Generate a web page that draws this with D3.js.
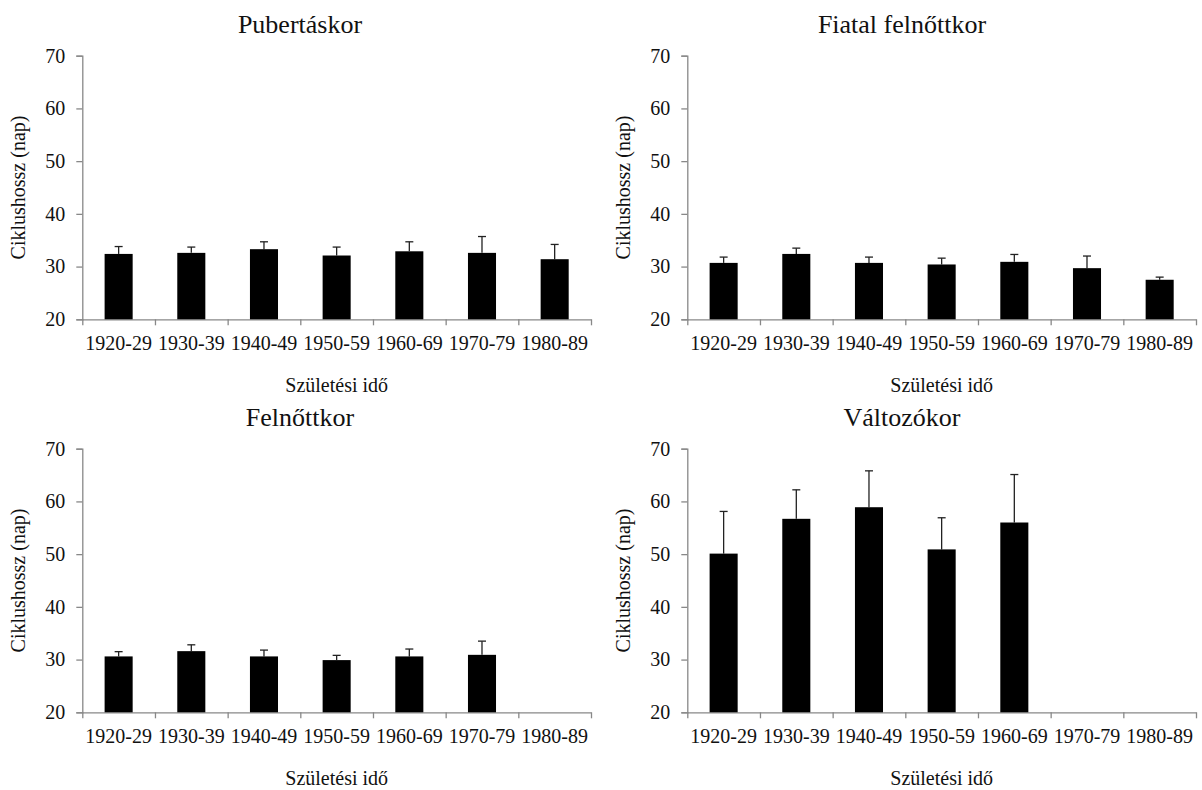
<!DOCTYPE html>
<html>
<head>
<meta charset="utf-8">
<script src="https://cdnjs.cloudflare.com/ajax/libs/d3/7.8.5/d3.min.js"></script>
<style>
  body { margin: 0; background: #fff; }
</style>
</head>
<body>
<svg id="chart" width="1202" height="790"></svg>
<script>
// categories (születési idő)
const decades = ["1920-29", "1930-39", "1940-49", "1950-59", "1960-69", "1970-79", "1980-89"];
const yTicks = [20, 30, 40, 50, 60, 70];

// panel titles
const titles = ["Pubertáskor", "Fiatal felnőttkor", "Felnőttkor", "Változókor"];

// mean cycle length per decade (null = no data)
const pubertasMean = [32.4, 32.6, 33.3, 32.1, 32.9, 32.6, 31.4];
const fiatalMean = [30.7, 32.4, 30.7, 30.4, 30.9, 29.7, 27.5];
const felnottMean = [30.6, 31.6, 30.6, 29.9, 30.6, 30.9, null];
const valtozoMean = [50.1, 56.7, 58.9, 50.9, 56.0, null, null];

// upper error bar length
const pubertasErr = [1.4, 1.1, 1.4, 1.6, 1.8, 3.1, 2.8];
const fiatalErr = [1.1, 1.1, 1.1, 1.2, 1.4, 2.3, 0.5];
const felnottErr = [0.9, 1.2, 1.2, 0.9, 1.4, 2.6, null];
const valtozoErr = [8.0, 5.5, 6.9, 6.0, 9.1, null, null];

const means = [pubertasMean, fiatalMean, felnottMean, valtozoMean];
const errs = [pubertasErr, fiatalErr, felnottErr, valtozoErr];

const svg = d3.select("#chart");
const axisColor = "#888";
const serif = '"Liberation Serif", "Times New Roman", Times, serif';

// panel offsets and inner plot box (relative to panel)
const offsets = [[0, 0], [605, 0], [0, 393], [605, 393]];
const plot = { left: 82.3, right: 591, top: 55.7, bottom: 319.3 };

titles.forEach(function (title, i) {
  const ox = offsets[i][0], oy = offsets[i][1];
  const g = svg.append("g").attr("transform", "translate(" + ox + "," + oy + ")");

  // scales
  const x = d3.scaleBand()
    .domain(decades)
    .range([plot.left, plot.right])
    .paddingInner(0.614)
    .paddingOuter(0.307);
  const edges = d3.scaleLinear().domain([0, decades.length]).range([plot.left, plot.right]);
  const y = d3.scaleLinear().domain([20, 70]).range([plot.bottom, plot.top]);

  // title
  g.append("text")
    .attr("x", i % 2 === 0 ? 300 : 297)
    .attr("y", 33)
    .attr("text-anchor", "middle")
    .style("font-size", "26px")
    .text(title);

  // y axis
  const yAxis = g.append("g")
    .attr("transform", "translate(" + plot.left + ",0)")
    .call(d3.axisLeft(y).tickValues(yTicks).tickSize(6).tickPadding(11).tickFormat(d3.format("d")));
  yAxis.selectAll("text").style("font-size", "20px");

  // x axis: tick marks on band edges
  const xEdges = g.append("g")
    .attr("transform", "translate(0," + plot.bottom + ")")
    .call(d3.axisBottom(edges).tickValues(d3.range(decades.length + 1)).tickSize(6).tickSizeOuter(0).tickFormat(""));

  // x axis labels at band centres
  const xLabels = g.append("g")
    .attr("transform", "translate(0," + plot.bottom + ")")
    .call(d3.axisBottom(x).tickSize(0).tickPadding(17));
  xLabels.select(".domain").remove();
  xLabels.selectAll("text").style("font-size", "20px");

  [yAxis, xEdges].forEach(function (a) {
    a.selectAll("path, line").attr("stroke", axisColor).attr("stroke-width", 1.3);
  });

  // axis titles
  g.append("text")
    .attr("transform", "translate(25," + (plot.top + plot.bottom) / 2 + ")rotate(-90)")
    .attr("text-anchor", "middle")
    .style("font-size", "20px")
    .text("Ciklushossz (nap)");
  g.append("text")
    .attr("x", (plot.left + plot.right) / 2)
    .attr("y", 392)
    .attr("text-anchor", "middle")
    .style("font-size", "20px")
    .text("Születési idő");

  const rows = decades
    .map(function (d, j) { return { cat: d, value: means[i][j], err: errs[i][j] }; })
    .filter(function (d) { return d.value !== null; });

  // error bars (upper only)
  const eb = g.selectAll(".err").data(rows).enter().append("g").attr("class", "err");
  eb.append("line")
    .attr("x1", (d) => x(d.cat) + x.bandwidth() / 2)
    .attr("x2", (d) => x(d.cat) + x.bandwidth() / 2)
    .attr("y1", (d) => y(d.value))
    .attr("y2", (d) => y(d.value + d.err))
    .attr("stroke", "#222")
    .attr("stroke-width", 1.3);
  eb.append("line")
    .attr("x1", (d) => x(d.cat) + x.bandwidth() / 2 - 4)
    .attr("x2", (d) => x(d.cat) + x.bandwidth() / 2 + 4)
    .attr("y1", (d) => y(d.value + d.err))
    .attr("y2", (d) => y(d.value + d.err))
    .attr("stroke", "#222")
    .attr("stroke-width", 1.3);

  // bars
  g.selectAll(".bar")
    .data(rows)
    .enter()
    .append("rect")
    .attr("class", "bar")
    .attr("fill", "#000")
    .attr("x", (d) => x(d.cat))
    .attr("y", (d) => y(d.value))
    .attr("width", x.bandwidth())
    .attr("height", (d) => plot.bottom - y(d.value));
});

// same serif face everywhere (d3 axes set their own font attributes)
svg.selectAll("g").attr("font-family", null);
svg.selectAll("text")
  .attr("font-family", serif)
  .style("font-family", serif)
  .attr("fill", "#111");
</script>
</body>
</html>
